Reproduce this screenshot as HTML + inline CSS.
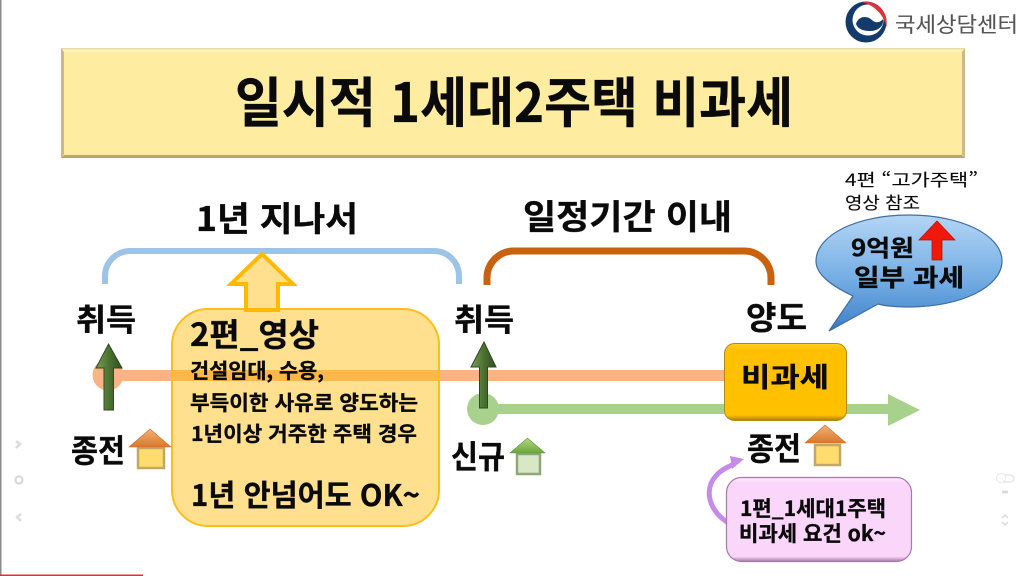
<!DOCTYPE html>
<html lang="ko"><head><meta charset="utf-8"><title>일시적 1세대2주택 비과세</title>
<style>
html,body{margin:0;padding:0;background:#fff;width:1024px;height:576px;overflow:hidden}
svg{display:block}
text{font-family:"Liberation Sans","Noto Sans CJK KR",sans-serif;fill:#0a0a0a;font-weight:700;stroke:#0a0a0a;stroke-width:.35px}
.k{font-family:"Noto Sans CJK KR","Liberation Sans",sans-serif}
.r{font-weight:400;stroke-width:.1px}
</style></head><body>
<svg width="1024" height="576" viewBox="0 0 1024 576" xmlns="http://www.w3.org/2000/svg">
<defs>
<linearGradient id="bub" x1="0" y1="0" x2="0" y2="1"><stop offset="0" stop-color="#b4d5f5"/><stop offset=".55" stop-color="#75aee4"/><stop offset=".9" stop-color="#4a8ad0"/><stop offset="1" stop-color="#2f6eb0"/></linearGradient>
<linearGradient id="ga" x1="0" y1="0" x2="1" y2="0"><stop offset="0" stop-color="#7a9c5c"/><stop offset=".5" stop-color="#4c7232"/><stop offset="1" stop-color="#2f4f1f"/></linearGradient>
<linearGradient id="roofO" x1="0" y1="0" x2="0" y2="1"><stop offset="0" stop-color="#f4b078"/><stop offset="1" stop-color="#d9782a"/></linearGradient>
<linearGradient id="roofG" x1="0" y1="0" x2="0" y2="1"><stop offset="0" stop-color="#b5da80"/><stop offset="1" stop-color="#69a63a"/></linearGradient>
<linearGradient id="yb" x1="0" y1="0" x2="0" y2="1"><stop offset="0" stop-color="#ffd028"/><stop offset=".08" stop-color="#ffc000"/><stop offset=".93" stop-color="#ffc000"/><stop offset="1" stop-color="#a87f08"/></linearGradient>
<linearGradient id="pb" x1="0" y1="0" x2="0" y2="1"><stop offset="0" stop-color="#fdeafd"/><stop offset=".07" stop-color="#fbd6fb"/><stop offset=".94" stop-color="#fbd6fb"/><stop offset="1" stop-color="#a67aa8"/></linearGradient>
</defs>
<rect width="1024" height="576" fill="#fff"/>
<rect x="0" y="0" width="1.5" height="576" fill="#8a8a8a"/>
<rect x="0" y="574.5" width="143" height="1.5" fill="#ee2b2b"/>

<!-- logo -->
<circle cx="866" cy="22" r="20.500" fill="#123a6b"/>
<circle cx="868" cy="20" r="15.500" fill="#fff"/>
<path d="M856 24C858 16 867 15 872 20C876 24 881 22 883 19C884 27 877 31 870 31C863 31 858 29 856 24Z" fill="#123a6b"/>
<path d="M862 2C876 0 889 11 886.500 27C884 16 876 6 862 2Z" fill="#e0323a"/>
<text class="k r" x="895" y="32" font-size="21" textLength="123" lengthAdjust="spacingAndGlyphs" style="fill:#555;stroke:#555">국세상담센터</text>

<!-- title -->
<rect x="61" y="48" width="904" height="110" fill="#feeda0"/>
<path d="M61 48H965L962 52H64Z" fill="#fff3bd"/>
<rect x="61" y="48" width="904" height="1.500" fill="#e9dba6"/>
<path d="M61 48L64 52V154L61 158Z" fill="#cdb983"/>
<path d="M965 48L962 52V154L965 158Z" fill="#cdb983"/>
<path d="M61 158L64 155H962L965 158Z" fill="#b9a570"/>
<text class="k" x="235" y="122" font-size="54" textLength="558" lengthAdjust="spacingAndGlyphs">일시적 1세대2주택 비과세</text>

<text class="k" x="196" y="231" font-size="34" textLength="162" lengthAdjust="spacingAndGlyphs">1년 지나서</text>
<text class="k" x="523" y="229" font-size="34" textLength="209" lengthAdjust="spacingAndGlyphs">일정기간 이내</text>
<text class="k r" x="845" y="186" font-size="17" textLength="133" lengthAdjust="spacingAndGlyphs">4편 “고가주택”</text>
<text class="k r" x="845" y="209" font-size="17" textLength="75" lengthAdjust="spacingAndGlyphs">영상 참조</text>

<!-- brackets -->
<path d="M105 284V276A25 25 0 0 1 130 251H434A25 25 0 0 1 459 276V284" fill="none" stroke="#9dc3e6" stroke-width="6"/>
<path d="M487 285V278A27 27 0 0 1 514 251H744A27 27 0 0 1 771 278V285" fill="none" stroke="#c8620f" stroke-width="7"/>

<!-- timelines -->
<circle cx="108" cy="375" r="15.500" fill="#f9b384"/>
<rect x="108" y="370" width="620" height="11" fill="#f9b384"/>
<circle cx="483" cy="409" r="16" fill="#a9d18e"/>
<rect x="483" y="404" width="406" height="10" fill="#a9d18e"/>
<path d="M888 394L920 410L888 426Z" fill="#a9d18e"/>

<!-- big box -->
<rect x="172" y="309" width="267" height="217" rx="36" fill="#ffe08f" stroke="#fdbd1a" stroke-width="2"/>
<rect x="173" y="370" width="265" height="11" fill="#ffb74a"/>
<path d="M262 254L293 284H278V310H246V284H231Z" fill="#ffe08f" stroke="#ffb900" stroke-width="4"/>

<text class="k" x="190" y="346" font-size="32" textLength="129" lengthAdjust="spacingAndGlyphs">2편_영상</text>
<text class="k" x="190" y="378" font-size="20.500" textLength="134" lengthAdjust="spacingAndGlyphs">건설임대, 수용,</text>
<text class="k" x="190" y="410" font-size="20.500" textLength="228" lengthAdjust="spacingAndGlyphs">부득이한 사유로 양도하는</text>
<text class="k" x="191" y="441" font-size="20.500" textLength="226" lengthAdjust="spacingAndGlyphs">1년이상 거주한 주택 경우</text>
<text class="k" x="191" y="506" font-size="30" textLength="229" lengthAdjust="spacingAndGlyphs">1년 안넘어도 OK~</text>

<!-- labels -->
<text class="k" x="76" y="331" font-size="31" textLength="60" lengthAdjust="spacingAndGlyphs">취득</text>
<text class="k" x="454" y="331" font-size="31" textLength="60" lengthAdjust="spacingAndGlyphs">취득</text>
<text class="k" x="746" y="329" font-size="32" textLength="61" lengthAdjust="spacingAndGlyphs">양도</text>
<text class="k" x="71" y="462" font-size="32" textLength="54" lengthAdjust="spacingAndGlyphs">종전</text>
<text class="k" x="451" y="468" font-size="32" textLength="54" lengthAdjust="spacingAndGlyphs">신규</text>
<text class="k" x="747" y="460" font-size="32" textLength="54" lengthAdjust="spacingAndGlyphs">종전</text>

<!-- dark green arrows -->
<path d="M108.500 344L122 368H113.500V410H104V368H96Z" fill="url(#ga)" stroke="#2f4a20" stroke-width="1"/>
<path d="M484 342L496 367H487.500V408H479.500V367H471Z" fill="url(#ga)" stroke="#2f4a20" stroke-width="1"/>

<!-- houses -->
<rect x="138" y="448" width="26" height="20" fill="#ffdc6e" stroke="#c2a868" stroke-width="2.500"/>
<path d="M150 429L171 447H129Z" fill="url(#roofO)" stroke="#c96f25" stroke-width=".6"/>
<rect x="517" y="454" width="23" height="20" fill="#d8e8c6" stroke="#8fa878" stroke-width="2.500"/>
<path d="M527.500 438L545 453H510Z" fill="url(#roofG)" stroke="#5f9a33" stroke-width=".6"/>
<rect x="815" y="445" width="25" height="20" fill="#ffdc6e" stroke="#c2a868" stroke-width="2.500"/>
<path d="M825 425L846 443H805Z" fill="url(#roofO)" stroke="#c96f25" stroke-width=".6"/>

<!-- yellow box -->
<rect x="724.500" y="343.500" width="122" height="77" rx="10" fill="url(#yb)" stroke="#b08a10" stroke-width="1"/>
<text class="k" x="741" y="387" font-size="27" textLength="88" lengthAdjust="spacingAndGlyphs">비과세</text>

<!-- bubble -->
<path d="M829 331L853 296C830 285 816 274 816 261C816 235 857 215 909 215C961 215 1002 235 1002 261C1002 287 961 307 909 307C896 307 885 306 878 304Z" fill="url(#bub)" stroke="#3f6f9f" stroke-width="1.200"/>
<text class="k" x="851" y="256" font-size="23" textLength="63" lengthAdjust="spacingAndGlyphs">9억원</text>
<text class="k" x="854" y="286" font-size="24" textLength="110" lengthAdjust="spacingAndGlyphs">일부 과세</text>
<path d="M937 221L955 240H942V260H932V240H919Z" fill="#f01808" stroke="#b8140a" stroke-width=".8"/>

<!-- pink -->
<path d="M727 522C704 507 700 476 735 464" fill="none" stroke="#c78ae8" stroke-width="5"/>
<path d="M744 459L730 456L732 469Z" fill="#c78ae8"/>
<rect x="726.500" y="477.500" width="185" height="84" rx="15" fill="url(#pb)" stroke="#a67aa8" stroke-width="1.200"/>
<text class="k" x="740" y="516" font-size="21" textLength="146" lengthAdjust="spacingAndGlyphs">1편_1세대1주택</text>
<text class="k" x="739" y="541" font-size="21" textLength="147" lengthAdjust="spacingAndGlyphs">비과세 요건 ok~</text>

<!-- faint controls -->
<g fill="none" stroke="#dcdcdc" stroke-width="2.500">
<path d="M16 441L20 444L16 448"/>
<circle cx="19" cy="480" r="3.500"/>
<path d="M21 514L17 517L21 521"/>
<rect x="997" y="475" width="17" height="7" rx="3.500" stroke-width="1"/>
<path d="M1002 518L1005 515L1008 518M1002 522L1005 525L1008 522" stroke-width="1.500"/>
<path d="M1002 492H1008" stroke-width="3"/>
</g>
<circle cx="1001" cy="478" r="4.500" fill="#fff" stroke="#e8e8e8"/>
</svg>
</body></html>
